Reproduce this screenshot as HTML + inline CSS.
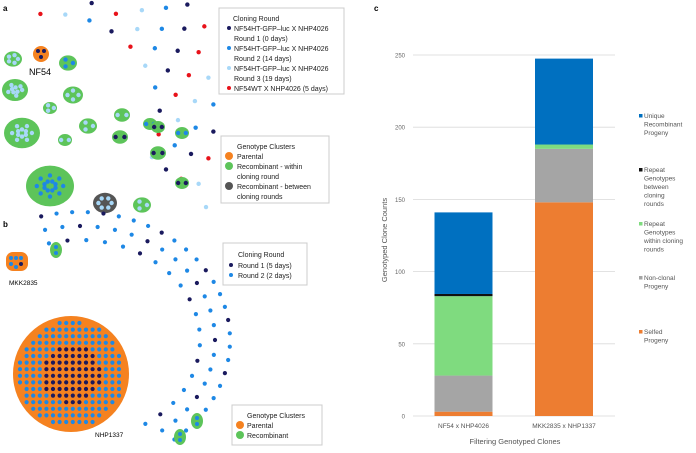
<!DOCTYPE html>
<html><head><meta charset="utf-8"><style>
body{margin:0;background:#fff;width:696px;height:448px;overflow:hidden}
svg{font-family:"Liberation Sans",sans-serif}
</style></head><body>
<svg id="fig" width="696" height="448" viewBox="0 0 696 448">
<g id="pa"></g>
<g id="pb"></g>
<g id="pc"></g>
<text x="3" y="11" font-size="8" font-weight="bold">a</text>
<text x="3" y="227" font-size="8" font-weight="bold">b</text>
<text x="374" y="11" font-size="8" font-weight="bold">c</text>
<g font-size="7" fill="#222">
<rect x="219" y="8" width="125" height="86" fill="#fff" stroke="#ccc"/>
<text x="233" y="21">Cloning Round</text>
<circle cx="229" cy="28" r="2" fill="#1a1a5e"/><text x="234" y="31">NF54HT-GFP–luc X NHP4026</text><text x="234" y="41">Round 1 (0 days)</text>
<circle cx="229" cy="48" r="2" fill="#1e88e5"/><text x="234" y="51">NF54HT-GFP–luc X NHP4026</text><text x="234" y="61">Round 2 (14 days)</text>
<circle cx="229" cy="68" r="2" fill="#a8d8f8"/><text x="234" y="71">NF54HT-GFP–luc X NHP4026</text><text x="234" y="81">Round 3 (19 days)</text>
<circle cx="229" cy="88" r="2" fill="#e8121a"/><text x="234" y="91">NF54WT X NHP4026 (5 days)</text>
</g>
<g font-size="7" fill="#222">
<rect x="221" y="136" width="108" height="67" fill="#fff" stroke="#ccc"/>
<text x="237" y="149">Genotype Clusters</text>
<circle cx="229" cy="156" r="4" fill="#f58220"/><text x="237" y="159">Parental</text>
<circle cx="229" cy="166" r="4" fill="#5dc45a"/><text x="237" y="169">Recombinant - within</text><text x="237" y="179">cloning round</text>
<circle cx="229" cy="186" r="4" fill="#555"/><text x="237" y="189">Recombinant - between</text><text x="237" y="199">cloning rounds</text>
</g>
<g font-size="7" fill="#222">
<rect x="223" y="243" width="84" height="42" fill="#fff" stroke="#ccc"/>
<text x="238" y="257">Cloning Round</text>
<circle cx="231" cy="265" r="2" fill="#1a1a5e"/><text x="238" y="268">Round 1 (5 days)</text>
<circle cx="231" cy="275" r="2" fill="#1e88e5"/><text x="238" y="278">Round 2 (2 days)</text>
</g>
<g font-size="7" fill="#222">
<rect x="232" y="405" width="90" height="40" fill="#fff" stroke="#ccc"/>
<text x="247" y="418">Genotype Clusters</text>
<circle cx="240" cy="425" r="4" fill="#f58220"/><text x="247" y="428">Parental</text>
<circle cx="240" cy="435" r="4" fill="#5dc45a"/><text x="247" y="438">Recombinant</text>
</g>
<text x="29" y="75" font-size="9">NF54</text>
<text x="9" y="285" font-size="6.5">MKK2835</text>
<text x="95" y="437" font-size="6.5">NHP1337</text>
</svg>
<script>
const NS="http://www.w3.org/2000/svg";
function mk(p,t,a){const e=document.createElementNS(NS,t);for(const k in a)e.setAttribute(k,a[k]);p.appendChild(e);return e;}
const cols=["#1a1a5e","#1e88e5","#a8d8f8","#e8121a"];
const pa=document.getElementById('pa');
let k=0;
for(let ring=0;ring<6;ring++){const R=110+ring*18;for(let a=-95;a<35;a+=13-ring){const x=50+R*Math.cos(a*Math.PI/180),y=118+R*Math.sin(a*Math.PI/180)*0.95;
 if(x>215||x<20||y<2)continue;if(y>110&&x<150)continue;k++;
 const d=mk(pa,'circle',{cx:x,cy:y,r:2.2,fill:cols[(k*7+ring*3)%4]});}}
const clusters=[[13,59,5,9,2],[68,63,3,9,1],[15,90,9,13,2],[73,95,4,10,2],[50,108,3,7,2],[22,133,12,18,2],[88,126,3,9,2],[65,140,2,7,2],[122,115,2,8,2],[120,137,2,8,0],[50,186,16,24,1],[150,124,2,7,1],[158,127,2,7,0],[182,133,2,7,1],[158,153,2,8,0],[182,183,2,7,0],[105,203,6,12,3],[142,205,3,9,2]];
clusters.forEach(c=>{
 const g=mk(pa,'g',{});
 
 
 mk(g,'ellipse',{cx:c[0],cy:c[1],rx:c[3],ry:c[3]*0.85,fill:c[4]==3?'#555':'#5dc45a'});
 const n=c[2];for(let i=0;i<n;i++){const a=i/n*6.28,r=c[3]*0.55*(n>6&&i%2?0.45:1);mk(g,'circle',{cx:c[0]+r*Math.cos(a),cy:c[1]+r*Math.sin(a)*0.8,r:2.2,fill:c[4]==0?'#1a1a5e':c[4]==1?'#1e88e5':'#a8d8f8'});}
});
{const g=mk(pa,'g',{});
mk(g,'circle',{cx:41,cy:54,r:8,fill:'#f58220'});[[38,51],[44,51],[41,57]].forEach(p=>mk(g,'circle',{cx:p[0],cy:p[1],r:2,fill:'#1a1a5e'}));}
const pb=document.getElementById('pb');
for(let ring=0;ring<3;ring++){const RX=120+ring*15,RY=100+ring*14;for(let a=-105;a<58;a+=9-ring*1.5){const x=80+RX*Math.cos(a*Math.PI/180),y=340+RY*Math.sin(a*Math.PI/180);
 if(y>446)continue;k++;const d=mk(pb,'circle',{cx:x,cy:y,r:2.1,fill:(k%4==0)?'#1a1a5e':'#1e88e5'});}}
{const g=mk(pb,'g',{});
mk(g,'rect',{x:6,y:252,width:22,height:19,rx:7,fill:'#f58220'});[[11,258],[16,258],[21,258],[11,264],[16,267],[21,264]].forEach((p,i)=>mk(g,'circle',{cx:p[0],cy:p[1],r:2,fill:i==5?'#1a1a5e':'#1e88e5'}));
const g2=mk(pb,'g',{});
mk(g2,'circle',{cx:71,cy:374,r:58,fill:'#f58220'});
for(let x=20;x<=125;x+=6.6)for(let y=323;y<=428;y+=6.6){const r=Math.hypot(x-71,y-374);if(r<53)mk(g2,'circle',{cx:x,cy:y,r:2.1,fill:r<30?'#1a1a5e':'#1e88e5'});}
[[56,250],[197,421],[180,437]].forEach(p=>{mk(pb,'ellipse',{cx:p[0],cy:p[1],rx:6,ry:8,fill:'#5dc45a'});mk(pb,'circle',{cx:p[0],cy:p[1]-3,r:2,fill:'#1e88e5'});mk(pb,'circle',{cx:p[0],cy:p[1]+3,r:2,fill:'#1e88e5'});});}
// panel c chart data
const categories=["NF54 x NHP4026","MKK2835 x NHP1337"];
const seriesNames=["Selfed Progeny","Non-clonal Progeny","Repeat Genotypes within cloning rounds","Repeat Genotypes between cloning rounds","Unique Recombinant Progeny"];
const seriesColors=["#ed7d31","#a5a5a5","#7fdb7f","#111111","#0070c0"];
const selfed=[3,148];
const nonclonal=[25,37];
const repeatWithin=[55,3];
const repeatBetween=[1.5,0];
const unique=[56.5,59.5];
const yTicks=[0,50,100,150,200,250];
const series=[selfed,nonclonal,repeatWithin,repeatBetween,unique];
const pc=document.getElementById('pc');
const y0=416,pxPer=361/250,x0=420,x1=615;
const ys=v=>y0-v*pxPer;
yTicks.forEach(t=>{const l=mk(pc,'line',{x1:x0-7,x2:x1,y1:ys(t),y2:ys(t),stroke:'#d9d9d9','stroke-width':0.8});
 const tx=mk(pc,'text',{x:405,y:ys(t)+2.5,'font-size':6,fill:'#666','text-anchor':'end'});tx.textContent=t;});
const bw=58,centers=[463.5,564];
categories.forEach((c,i)=>{let acc=0;series.forEach((s,j)=>{const v=s[i];if(v>0){const r=mk(pc,'rect',{x:centers[i]-bw/2,y:ys(acc+v),width:bw,height:v*pxPer,fill:seriesColors[j]});}acc+=v;});
 const t=mk(pc,'text',{x:centers[i],y:428,'font-size':6.5,fill:'#555','text-anchor':'middle'});t.textContent=c;});
{const t=mk(pc,'text',{x:515,y:444,'font-size':7.5,fill:'#555','text-anchor':'middle'});t.textContent="Filtering Genotyped Clones";
const t2=mk(pc,'text',{x:0,y:0,'font-size':7.5,fill:'#555','text-anchor':'middle',transform:'translate(387,240) rotate(-90)'});t2.textContent="Genotyped Clone Counts";}
const legLines=[["Selfed","Progeny"],["Non-clonal","Progeny"],["Repeat","Genotypes","within cloning","rounds"],["Repeat","Genotypes","between","cloning","rounds"],["Unique","Recombinant","Progeny"]];
const legY=[334,280,226,172,118];
legLines.forEach((ls,j)=>{const g=mk(pc,'g',{});
 mk(g,'rect',{x:639,y:legY[j]-4,width:3.5,height:3.5,fill:seriesColors[j]});
 ls.forEach((s,m)=>{const t=mk(g,'text',{x:644,y:legY[j]+m*8.5,'font-size':6.5,fill:'#555'});t.textContent=s;});});
</script>
</body></html>
